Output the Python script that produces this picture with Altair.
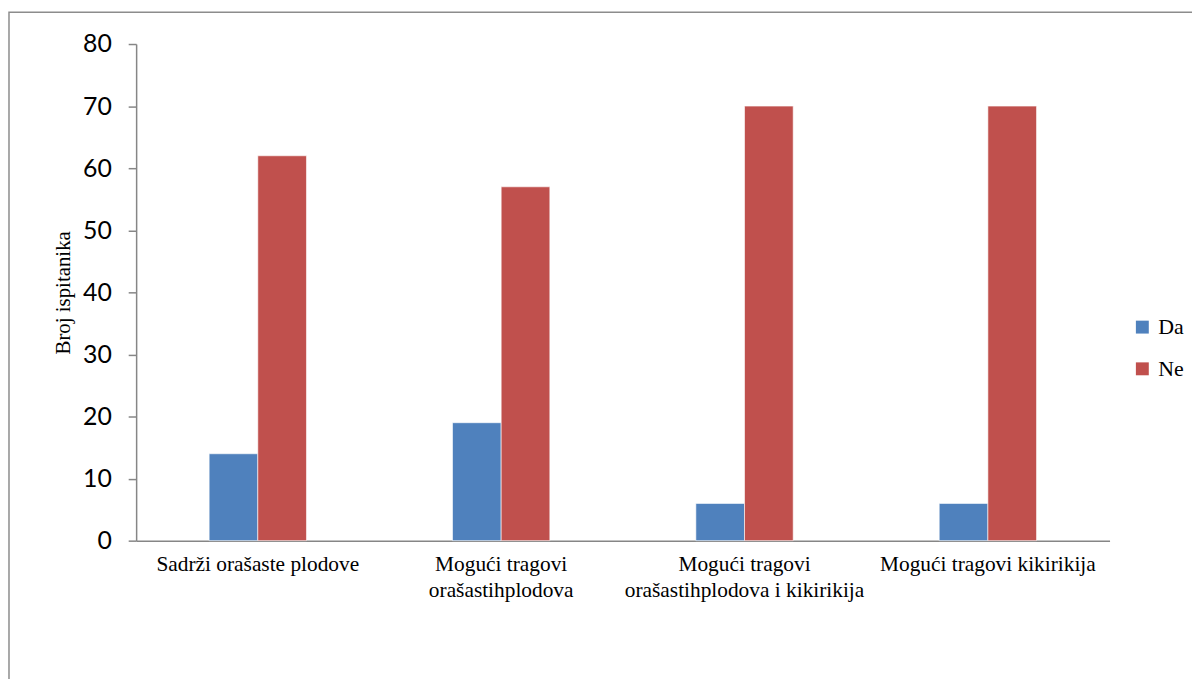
import altair as alt
import pandas as pd

categories = [
    "Sadrži orašaste plodove",
    "Mogući tragovi orašastihplodova",
    "Mogući tragovi orašastihplodova i kikirikija",
    "Mogući tragovi kikirikija",
]
label_lines = [
    ["Sadrži orašaste plodove"],
    ["Mogući tragovi", "orašastihplodova"],
    ["Mogući tragovi", "orašastihplodova i kikirikija"],
    ["Mogući tragovi kikirikija"],
]
series = ["Da", "Ne"]
da_values = [14, 19, 6, 6]
ne_values = [62, 57, 70, 70]
y_ticks = [0, 10, 20, 30, 40, 50, 60, 70, 80]
colors = ["#4F81BD", "#C0504D"]

rows = []
for c, d, n in zip(categories, da_values, ne_values):
    rows.append({"kategorija": c, "odgovor": "Da", "broj": d})
    rows.append({"kategorija": c, "odgovor": "Ne", "broj": n})
df = pd.DataFrame(rows)

# label expression for multi-line labels
expr = "datum.label"
for c, lines in reversed(list(zip(categories, label_lines))):
    arr = "[" + ",".join("'" + l + "'" for l in lines) + "]"
    expr = f"datum.label == '{c}' ? {arr} : ({expr})"

W, H = 980, 500

bars = alt.Chart(df).mark_bar(stroke="#ffffff", strokeWidth=0.6).encode(
    x=alt.X(
        "kategorija:N",
        sort=categories,
        scale=alt.Scale(paddingInner=0.6, paddingOuter=0.3),
        axis=alt.Axis(
            title=None,
            labelAngle=0,
            ticks=False,
            labelFont="Liberation Serif",
            labelFontSize=21.5,
            labelColor="#000000",
            labelPadding=13,
            labelLineHeight=26,
            labelExpr=expr,
            labelLimit=400,
            domainColor="#868686",
            domainWidth=1.5,
        ),
    ),
    xOffset=alt.XOffset("odgovor:N", sort=series),
    y=alt.Y(
        "broj:Q",
        scale=alt.Scale(domain=[0, 80], nice=False),
        axis=alt.Axis(
            title="Broj ispitanika",
            values=y_ticks,
            grid=False,
            tickSize=8,
            tickColor="#868686",
            tickWidth=1.5,
            domainColor="#868686",
            domainWidth=1.5,
            labelFont="Lato",
            labelFontSize=25,
            labelColor="#000000",
            labelPadding=17,
            titleFont="Liberation Serif",
            titleFontSize=21,
            titleFontWeight="normal",
            titleColor="#000000",
            titleX=-63,
            titleY=H / 2,
        ),
    ),
    color=alt.Color(
        "odgovor:N",
        sort=series,
        scale=alt.Scale(domain=series, range=colors),
        legend=alt.Legend(
            title=None,
            orient="none",
            legendX=1002,
            legendY=274,
            symbolType="square",
            symbolSize=169,
            symbolStrokeWidth=0,
            labelFont="Liberation Serif",
            labelFontSize=22,
            labelColor="#000000",
            labelOffset=5,
            rowPadding=20,
            padding=0,
        ),
    ),
)

frame = alt.Chart(alt.Data(values=[{"a": 1}])).mark_rect(
    fill=None, stroke="#8c8c8c", strokeWidth=1.5
).encode(
    x=alt.value(-128),
    x2=alt.value(W + 200),
    y=alt.value(-32),
    y2=alt.value(H + 300),
)

chart = alt.layer(frame, bars).properties(
    width=W,
    height=H,
    autosize=alt.AutoSizeParams(type="none"),
    padding={"left": 129, "top": 34, "right": 83, "bottom": 137},
).configure_view(stroke=None)

chart.save("out.html", embed_options={"renderer": "svg", "actions": False})
